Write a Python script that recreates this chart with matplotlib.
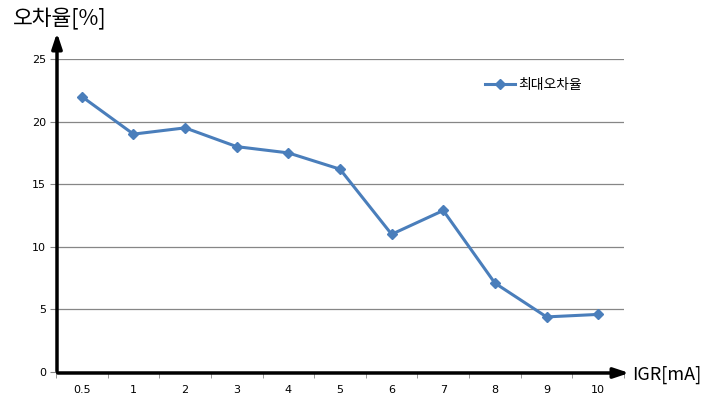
import matplotlib
matplotlib.use("Agg")
import matplotlib.pyplot as plt

plt.rcParams['font.family'] = ['Noto Sans CJK KR', 'DejaVu Sans']

categories = ['0.5', '1', '2', '3', '4', '5', '6', '7', '8', '9', '10']
values = [22.0, 19.0, 19.5, 18.0, 17.5, 16.2, 11.0, 12.9, 7.1, 4.4, 4.6]
yticks = [0, 5, 10, 15, 20, 25]
series_name = '최대오차율'

W, H = 714, 415
fig = plt.figure(figsize=(W/100, H/100), dpi=100)
L, R, B, T = 56, 624, 372, 59
ax = fig.add_axes([L/W, 1-B/H, (R-L)/W, (B-T)/H])

x = list(range(len(categories)))
ax.plot(x, values, color='#4A7EBB', lw=2.2, marker='D', ms=5, label=series_name, zorder=3)
ax.set_xlim(-0.5, len(categories)-0.5)
ax.set_ylim(0, 25)
ax.set_yticks(yticks)
ax.set_yticklabels([str(v) for v in yticks], fontsize=8, family='DejaVu Sans')
ax.set_xticks(x)
ax.set_xticklabels(categories, fontsize=8, family='DejaVu Sans')
ax.tick_params(axis='x', length=0, pad=9)
ax.set_xticks([i-0.5 for i in range(len(categories)+1)], minor=True)
ax.tick_params(axis='x', which='minor', length=4, color='#868686')
ax.tick_params(axis='y', length=4, color='#868686', pad=3)
ax.grid(axis='y', color='#868686', lw=0.9)
ax.set_axisbelow(True)
for s in ['top', 'right']:
    ax.spines[s].set_visible(False)
for s in ['left', 'bottom']:
    ax.spines[s].set_color('#868686')

leg = ax.legend(loc='upper left', bbox_to_anchor=((479-L)/(R-L), 1-(72-T)/(B-T)),
                frameon=False, fontsize=10, handlelength=2.2, handletextpad=0.2,
                borderaxespad=0)

# black arrows
ax_f = fig.add_axes([0, 0, 1, 1], facecolor='none')
ax_f.set_xlim(0, W); ax_f.set_ylim(H, 0); ax_f.axis('off')
ax_f.annotate('', xy=(57, 30), xytext=(57, 374),
              arrowprops=dict(arrowstyle='-|>,head_length=0.9,head_width=0.3', lw=2.5, color='black'))
ax_f.annotate('', xy=(632, 373), xytext=(55, 373),
              arrowprops=dict(arrowstyle='-|>,head_length=0.9,head_width=0.3', lw=2.5, color='black'))
ax_f.text(13, 19, '오차율[%]', fontsize=15.5, va='center', ha='left')
ax_f.text(632, 375, 'IGR[mA]', fontsize=13, va='center', ha='left')

fig.savefig('out.png', dpi=100)
